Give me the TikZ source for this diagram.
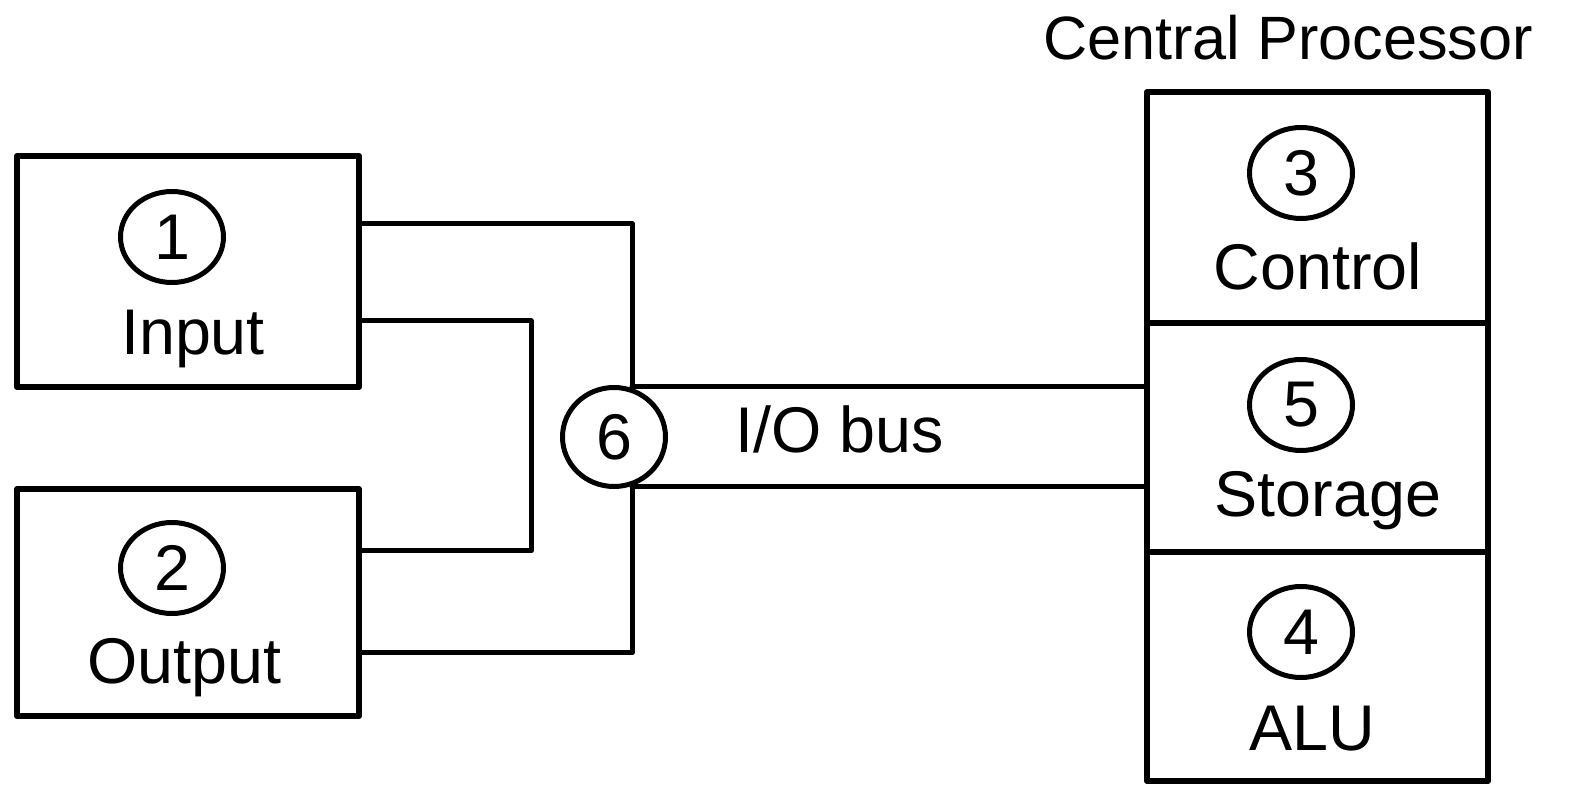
\documentclass[tikz,border=0pt]{standalone}
\usepackage{fontspec}
\setmainfont{Liberation Sans}
\usetikzlibrary{shapes.geometric}

\begin{document}
\begin{tikzpicture}[x=0.5pt,y=-0.5pt,
    font=\fontsize{32.3}{38}\selectfont,
    box/.style={draw,line width=3pt,line join=round,inner sep=0pt},
    num/.style={draw,ellipse,line width=2.5pt,inner sep=0pt,
        minimum width=51.5pt,minimum height=45.5pt},
    lbl/.style={anchor=base,inner sep=0pt},
    wire/.style={line width=2.5pt,line join=round}]
    \useasboundingbox (0,0) rectangle (1569,785);

    % ===== Input / Output =====
    \node[box,minimum width=171pt,minimum height=115.5pt] (input) at (188,271.5) {};
    \node[box,minimum width=171pt,minimum height=113.5pt] (output) at (188,602.5) {};
    \node[num] (n1) at (172,237) {1};
    \node[lbl] (inlbl) at (193,355) {Input};
    \node[num] (n2) at (172,568) {2};
    \node[lbl] (outlbl) at (184,683) {Output};

    % ===== Central Processor =====
    \node[lbl,font=\fontsize{30.6}{36}\selectfont] (title) at (1288,60) {Central Processor};
    \node[box,minimum width=170.5pt,minimum height=115.5pt] (ctrl) at (1317.5,207.5) {};
    \node[box,minimum width=170.5pt,minimum height=114.5pt] (stor) at (1317.5,437.5) {};
    \node[box,minimum width=170.5pt,minimum height=114.5pt] (alu) at (1317.5,666.5) {};
    \node[num] (n3) at (1301,173) {3};
    \node[lbl] (ctrllbl) at (1318,290) {Control};
    \node[num] (n5) at (1301,405) {5};
    \node[lbl] (storlbl) at (1328,517) {Storage};
    \node[num] (n4) at (1301,632) {4};
    \node[lbl] (alulbl) at (1312,750) {ALU};

    % ===== I/O bus =====
    \coordinate (in1) at (input.east |- 0,224);
    \coordinate (in2) at (input.east |- 0,321);
    \coordinate (out1) at (output.east |- 0,551);
    \coordinate (out2) at (output.east |- 0,653);
    \coordinate (lp) at (531,551);
    \coordinate (bt) at (632,387);
    \coordinate (bb) at (632,487);

    \draw[wire] (in1) -| (bt);
    \draw[wire] (out2) -| (bb);
    \draw[wire] (in2) -| (lp) -- (out1);
    \draw[wire,line cap=round] (bt) -- (bt -| stor.west);
    \draw[wire,line cap=round] (bb) -- (bb -| stor.west);

    \node[num,minimum height=49.5pt] (n6) at (614,437) {6};
    \node[lbl] (buslbl) at (840,453) {I/O bus};

\end{tikzpicture}
\end{document}
